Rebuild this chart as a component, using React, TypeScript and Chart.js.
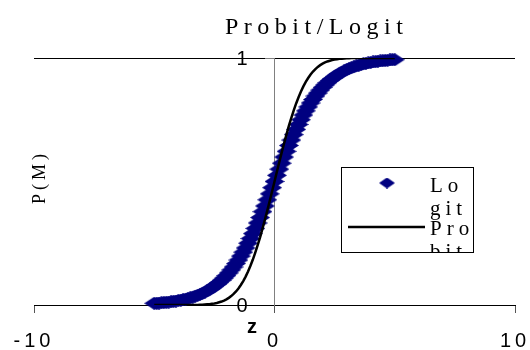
import React, { useEffect, useRef } from "react";
import { Chart, registerables } from "chart.js";
Chart.register(...registerables);

const zValues = [
  -5.0, -4.9, -4.8, -4.7, -4.6, -4.5, -4.4, -4.3, -4.2, -4.1,
  -4.0, -3.9, -3.8, -3.7, -3.6, -3.5, -3.4, -3.3, -3.2, -3.1,
  -3.0, -2.9, -2.8, -2.7, -2.6, -2.5, -2.4, -2.3, -2.2, -2.1,
  -2.0, -1.9, -1.8, -1.7, -1.6, -1.5, -1.4, -1.3, -1.2, -1.1,
  -1.0, -0.9, -0.8, -0.7, -0.6, -0.5, -0.4, -0.3, -0.2, -0.1,
  0.0, 0.1, 0.2, 0.3, 0.4, 0.5, 0.6, 0.7, 0.8, 0.9,
  1.0, 1.1, 1.2, 1.3, 1.4, 1.5, 1.6, 1.7, 1.8, 1.9,
  2.0, 2.1, 2.2, 2.3, 2.4, 2.5, 2.6, 2.7, 2.8, 2.9,
  3.0, 3.1, 3.2, 3.3, 3.4, 3.5, 3.6, 3.7, 3.8, 3.9,
  4.0, 4.1, 4.2, 4.3, 4.4, 4.5, 4.6, 4.7, 4.8, 4.9,
  5.0,
];

const logitValues = [
  0.007, 0.007, 0.008, 0.009, 0.010, 0.011, 0.012, 0.013, 0.015, 0.016,
  0.018, 0.020, 0.022, 0.024, 0.027, 0.029, 0.032, 0.036, 0.039, 0.043,
  0.047, 0.052, 0.057, 0.063, 0.069, 0.076, 0.083, 0.091, 0.100, 0.109,
  0.119, 0.130, 0.142, 0.154, 0.168, 0.182, 0.198, 0.214, 0.231, 0.250,
  0.269, 0.289, 0.310, 0.332, 0.354, 0.378, 0.401, 0.426, 0.450, 0.475,
  0.500, 0.525, 0.550, 0.574, 0.599, 0.622, 0.646, 0.668, 0.690, 0.711,
  0.731, 0.750, 0.769, 0.786, 0.802, 0.818, 0.832, 0.846, 0.858, 0.870,
  0.881, 0.891, 0.900, 0.909, 0.917, 0.924, 0.931, 0.937, 0.943, 0.948,
  0.953, 0.957, 0.961, 0.964, 0.968, 0.971, 0.973, 0.976, 0.978, 0.980,
  0.982, 0.984, 0.985, 0.987, 0.988, 0.989, 0.990, 0.991, 0.992, 0.993,
  0.993,
];

const probitValues = [
  0, 0, 0, 0, 0, 0, 0, 0, 0, 0,
  0, 0, 0, 0, 0, 0, 0, 0, 0, 0.001,
  0.001, 0.002, 0.003, 0.003, 0.005, 0.006, 0.008, 0.011, 0.014, 0.018,
  0.023, 0.029, 0.036, 0.045, 0.055, 0.067, 0.081, 0.097, 0.115, 0.136,
  0.159, 0.184, 0.212, 0.242, 0.274, 0.309, 0.345, 0.382, 0.421, 0.460,
  0.500, 0.540, 0.579, 0.618, 0.655, 0.691, 0.726, 0.758, 0.788, 0.816,
  0.841, 0.864, 0.885, 0.903, 0.919, 0.933, 0.945, 0.955, 0.964, 0.971,
  0.977, 0.982, 0.986, 0.989, 0.992, 0.994, 0.995, 0.997, 0.997, 0.998,
  0.999, 0.999, 1, 1, 1, 1, 1, 1, 1, 1,
  1, 1, 1, 1, 1, 1, 1, 1, 1, 1,
  1,
];

const xTicks = [-10, 0, 10];
const yTicks = [0, 1];
const titleText = "Probit/Logit";
const yTitleText = "P(M)";
const xTitleText = "z";
const seriesNames = ["Logit", "Probit"];
const legendLines = [["Lo", "git"], ["Pro", "bit"]];

const SERIF = '"Liberation Serif", "Times New Roman", serif';
const SANS = '"Liberation Sans", Arial, sans-serif';

export default function App() {
  const ref = useRef<HTMLCanvasElement>(null);

  useEffect(() => {
    document.body.style.margin = "0";
    const canvas = ref.current!;

    const DW = 20, DH = 13;
    const diamond = document.createElement("canvas");
    diamond.width = DW;
    diamond.height = DH;
    const dctx = diamond.getContext("2d")!;
    dctx.fillStyle = "#000080";
    dctx.beginPath();
    dctx.moveTo(0, DH / 2);
    dctx.lineTo(DW / 2, 0);
    dctx.lineTo(DW, DH / 2);
    dctx.lineTo(DW / 2, DH);
    dctx.closePath();
    dctx.fill();

    const LW = 16, LH = 11;
    const legendDiamond = document.createElement("canvas");
    legendDiamond.width = LW;
    legendDiamond.height = LH;
    const lctx = legendDiamond.getContext("2d")!;
    lctx.fillStyle = "#000080";
    lctx.beginPath();
    lctx.moveTo(0, LH / 2);
    lctx.lineTo(LW / 2, 0);
    lctx.lineTo(LW, LH / 2);
    lctx.lineTo(LW / 2, LH);
    lctx.closePath();
    lctx.fill();

    const overlay = {
      id: "overlay",
      beforeDraw(chart: any) {
        (chart.ctx as any).letterSpacing = "4px";
      },
      afterDraw(chart: any) {
        const ctx = chart.ctx as any;
        const xs = chart.scales.x;
        const ys = chart.scales.y;
        ctx.save();
        ctx.fillStyle = "#000";

        // y tick labels (left of the axis at x = 0)
        const axisX = xs.getPixelForValue(0);
        ctx.font = `20px ${SANS}`;
        ctx.letterSpacing = "0px";
        ctx.textAlign = "right";
        ctx.textBaseline = "middle";
        yTicks.forEach((v) => {
          ctx.fillText(String(v), axisX - 27, ys.getPixelForValue(v) + 1);
        });

        ctx.textBaseline = "alphabetic";

        // title
        ctx.font = `24px ${SERIF}`;
        ctx.letterSpacing = "5.5px";
        ctx.textAlign = "left";
        ctx.fillText(titleText, 225, 34);

        // y title
        ctx.save();
        ctx.translate(45, 177);
        ctx.rotate(-Math.PI / 2);
        ctx.font = `18px ${SERIF}`;
        ctx.letterSpacing = "4px";
        ctx.textAlign = "center";
        ctx.fillText(yTitleText, 0, 0);
        ctx.restore();

        // x title
        ctx.font = `bold 20px ${SANS}`;
        ctx.letterSpacing = "0px";
        ctx.textAlign = "left";
        ctx.fillText(xTitleText, 247, 333);

        // legend
        const bx = 341.5, by = 167.5, bw = 132, bh = 85;
        ctx.fillStyle = "#fff";
        ctx.fillRect(bx, by, bw, bh);
        ctx.save();
        ctx.beginPath();
        ctx.rect(bx, by, bw, bh);
        ctx.clip();
        ctx.drawImage(legendDiamond, 387 - LW / 2, 183 - LH / 2);
        ctx.strokeStyle = "#000";
        ctx.lineWidth = 2.5;
        ctx.beginPath();
        ctx.moveTo(348, 227);
        ctx.lineTo(425, 227);
        ctx.stroke();
        ctx.fillStyle = "#000";
        ctx.font = `21px ${SERIF}`;
        ctx.letterSpacing = "5px";
        ctx.textAlign = "left";
        ctx.fillText(legendLines[0][0], 430, 192);
        ctx.fillText(legendLines[0][1], 430, 215);
        ctx.fillText(legendLines[1][0], 430, 235);
        ctx.fillText(legendLines[1][1], 430, 258);
        ctx.restore();
        ctx.strokeStyle = "#000";
        ctx.lineWidth = 1;
        ctx.strokeRect(bx, by, bw, bh);

        ctx.restore();
      },
    };

    const chart = new Chart(canvas, {
      type: "scatter",
      data: {
        datasets: [
          {
            label: seriesNames[1],
            data: zValues.map((z, i) => ({ x: z, y: probitValues[i] })),
            showLine: true,
            borderColor: "#000",
            backgroundColor: "#000",
            borderWidth: 2.5,
            pointRadius: 0,
            tension: 0,
            order: 0,
          },
          {
            label: seriesNames[0],
            data: zValues.map((z, i) => ({ x: z, y: logitValues[i] })),
            showLine: false,
            pointStyle: diamond as any,
            pointRadius: 5,
            backgroundColor: "#000080",
            borderColor: "#000080",
            clip: false as any,
            order: 1,
          },
        ],
      },
      options: {
        responsive: false,
        animation: false,
        layout: {
          autoPadding: false,
          padding: { left: 34, right: 15, top: 58, bottom: 0 },
        },
        plugins: {
          legend: { display: false },
          title: { display: false },
          tooltip: { enabled: false },
        },
        scales: {
          x: {
            type: "linear",
            min: xTicks[0],
            max: xTicks[xTicks.length - 1],
            afterBuildTicks: (s: any) => {
              s.ticks = xTicks.map((v) => ({ value: v }));
            },
            afterFit: (s: any) => {
              s.height = 45;
              s.paddingLeft = 0;
              s.paddingRight = 0;
            },
            ticks: {
              color: "#000",
              font: { family: SANS, size: 20 },
              padding: 16,
              maxRotation: 0,
            },
            grid: {
              drawOnChartArea: false,
              drawTicks: true,
              tickLength: 8,
              tickColor: "#555",
            },
            border: { color: "#000", width: 1 },
          },
          y: {
            type: "linear",
            min: yTicks[0],
            max: yTicks[yTicks.length - 1],
            position: { x: 0 } as any,
            afterBuildTicks: (s: any) => {
              s.ticks = yTicks.map((v) => ({ value: v }));
            },
            afterFit: (s: any) => {
              s.paddingTop = 0;
              s.paddingBottom = 0;
            },
            ticks: { display: false },
            grid: {
              color: "#000",
              lineWidth: 1,
              tickLength: 9,
              tickColor: "#808080",
            },
            border: { color: "#808080", width: 1 },
          },
        },
      },
      plugins: [overlay],
    });

    return () => chart.destroy();
  }, []);

  return (
    <canvas
      ref={ref}
      width={530}
      height={350}
      style={{ display: "block", width: 530, height: 350 }}
    />
  );
}
